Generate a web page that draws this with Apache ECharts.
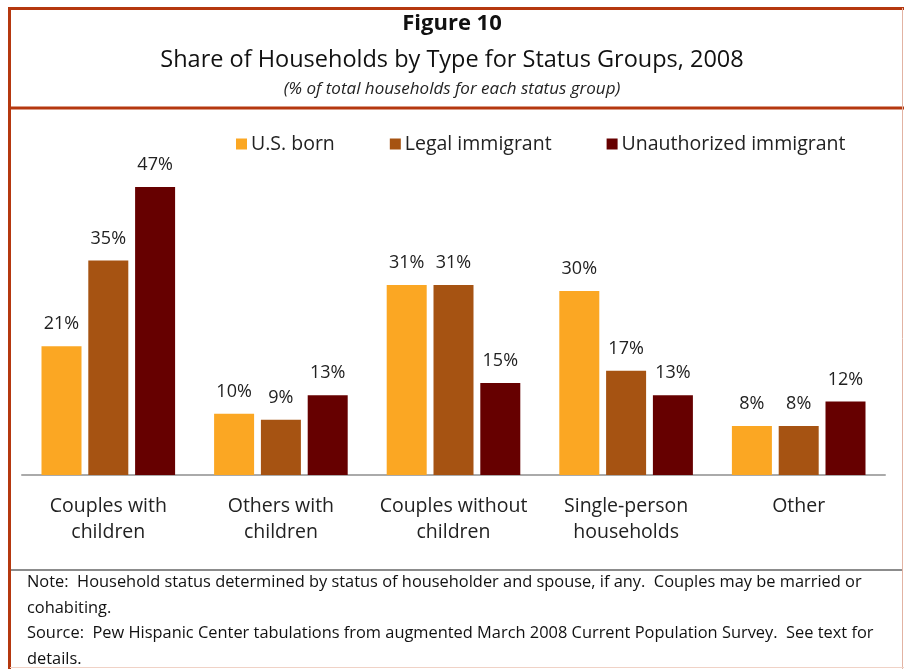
<!DOCTYPE html>
<html>
<head>
<meta charset="utf-8">
<script src="https://cdn.jsdelivr.net/npm/echarts@6/dist/echarts.min.js"></script>
<style>
  html, body { margin: 0; padding: 0; background: #fff; }
  #main { width: 904px; height: 669px; }
</style>
</head>
<body>
<div id="main"></div>
<script>
// household types along the x axis
const categories = ['Couples with\nchildren', 'Others with\nchildren', 'Couples without\nchildren', 'Single-person\nhouseholds', 'Other'];
const seriesNames = ['U.S. born', 'Legal immigrant', 'Unauthorized immigrant'];
const usBorn = [21, 10, 31, 30, 8];
const legalImm = [35, 9, 31, 17, 8];
const unauthImm = [47, 13, 15, 13, 12];
const colors = ['#FBA723', '#A65312', '#660000'];

const font = '"Open Sans", "Liberation Sans", sans-serif';
const frame = '#B5380F';

const chart = echarts.init(document.getElementById('main'), null, { renderer: 'canvas' });

function barSeries(name, data, color) {
  return {
    name: name,
    type: 'bar',
    data: data,
    barWidth: 40,
    barGap: '17%',
    itemStyle: { color: color },
    label: {
      show: true,
      position: 'top',
      distance: 13,
      formatter: '{c}%',
      fontFamily: font,
      fontSize: 18,
      color: '#222'
    }
  };
}

// titles sit a few px right of the canvas centre, like the original
const titlePad = [5, 0, 5, 9];

const option = {
  backgroundColor: '#fff',
  animation: false,
  title: [
    {
      text: 'Figure 10',
      left: 'center', top: 8, padding: titlePad,
      textStyle: { fontFamily: font, fontSize: 22, fontWeight: 'bold', color: '#111' }
    },
    {
      text: 'Share of Households by Type for Status Groups, 2008',
      left: 'center', top: 43, padding: titlePad,
      textStyle: { fontFamily: font, fontSize: 23.5, fontWeight: 'normal', color: '#111' }
    },
    {
      text: '(% of total households for each status group)',
      left: 'center', top: 76, padding: titlePad,
      textStyle: { fontFamily: font, fontSize: 17, fontStyle: 'italic', fontWeight: 'normal', color: '#222' }
    }
  ],
  legend: {
    data: seriesNames,
    top: 129,
    left: 231,
    itemWidth: 11,
    itemHeight: 11,
    itemGap: 55,
    icon: 'rect',
    textStyle: { fontFamily: font, fontSize: 19.5, color: '#222', padding: [0, 0, 0, -1] }
  },
  grid: { left: 22, right: 19, top: 168.5, bottom: 194, containLabel: false },
  xAxis: {
    type: 'category',
    data: categories,
    axisLine: { lineStyle: { color: '#AAAAAA', width: 2 } },
    axisTick: { show: false },
    axisLabel: {
      fontFamily: font, fontSize: 19.5, color: '#222',
      lineHeight: 26, margin: 18, interval: 0
    }
  },
  yAxis: {
    type: 'value',
    min: 0, max: 50,
    show: false,
    splitLine: { show: false }
  },
  series: [
    barSeries(seriesNames[0], usBorn, colors[0]),
    barSeries(seriesNames[1], legalImm, colors[1]),
    barSeries(seriesNames[2], unauthImm, colors[2])
  ],
  graphic: [
    // frame lines
    { type: 'line', shape: { x1: 9, y1: 8.5, x2: 904, y2: 8.5 }, style: { stroke: frame, lineWidth: 3 } },
    { type: 'line', shape: { x1: 9.5, y1: 7, x2: 9.5, y2: 669 }, style: { stroke: frame, lineWidth: 3 } },
    { type: 'line', shape: { x1: 9, y1: 108, x2: 904, y2: 108 }, style: { stroke: frame, lineWidth: 3 } },
    { type: 'line', shape: { x1: 902.5, y1: 8, x2: 902.5, y2: 669 }, style: { stroke: '#E2B3A3', lineWidth: 1 } },
    { type: 'line', shape: { x1: 10, y1: 667.5, x2: 904, y2: 667.5 }, style: { stroke: '#F0D2C6', lineWidth: 1 } },
    { type: 'line', shape: { x1: 11, y1: 570, x2: 902, y2: 570 }, style: { stroke: '#666', lineWidth: 1.5 } },
    // notes
    {
      type: 'text', left: 27, top: 570,
      style: {
        text: 'Note:  Household status determined by status of householder and spouse, if any.  Couples may be married or\ncohabiting.\nSource:  Pew Hispanic Center tabulations from augmented March 2008 Current Population Survey.  See text for\ndetails.',
        font: '16.4px ' + font,
        fill: '#111',
        lineHeight: 25.5
      }
    }
  ]
};

chart.setOption(option);
</script>
</body>
</html>
